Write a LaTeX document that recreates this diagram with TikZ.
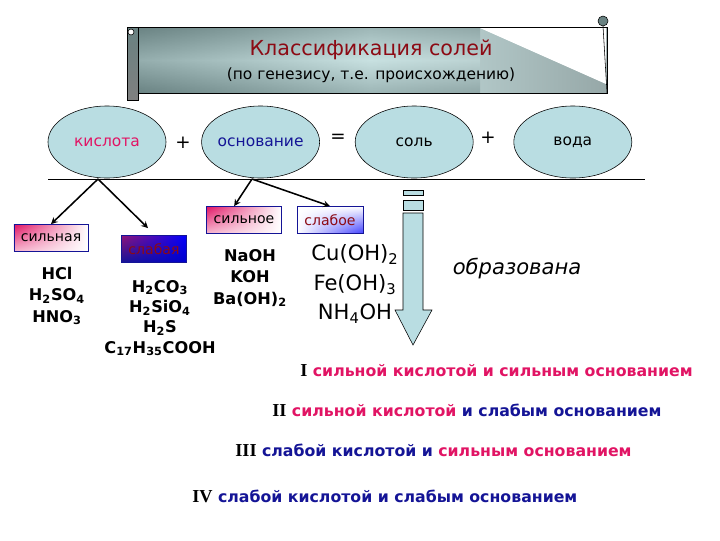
\documentclass[tikz,border=0pt]{standalone}
\usepackage{fontspec}
\setmainfont{DejaVu Sans}
\newfontfamily\romfont{Liberation Serif}
\usepackage{tikz}
\usetikzlibrary{shapes.geometric, arrows, shadings}
\usetikzlibrary{positioning}
\definecolor{saltblue}{RGB}{185,221,226}
\definecolor{acidred}{RGB}{225,20,100}
\definecolor{basenavy}{RGB}{20,20,150}
\definecolor{titlered}{RGB}{140,10,20}
\definecolor{bannergray}{RGB}{105,130,130}
\definecolor{bannerlight}{RGB}{200,225,225}
\tikzstyle{reagent} = [ellipse, minimum width=2.95cm, minimum height=1.8cm, inner xsep=-2pt, text centered, draw=black, fill=saltblue, font=\fontsize{11}{13}\selectfont]
\tikzstyle{kind} = [rectangle, minimum height=0.68cm, text centered, draw=basenavy, font=\fontsize{10}{12}\selectfont]
\tikzstyle{formula} = [align=center, font=\bfseries\fontsize{11.5}{15.3}\selectfont]
\tikzstyle{sign} = [font=\fontsize{13}{15}\selectfont]
\tikzstyle{verdict} = [anchor=west, inner xsep=0pt, font=\bfseries\fontsize{11.2}{13}\selectfont]
\tikzstyle{arrow} = [line width=1.1pt,->,>=stealth]

\begin{document}
\begin{tikzpicture}[x=0.025cm, y=-0.025cm]
\useasboundingbox (0,0) rectangle (720,540);

% banner
\shade[left color=bannergray, right color=bannergray!70, middle color=bannerlight] (133,27) rectangle (607,93);
\shade[top color=bannergray, bottom color=bannergray, middle color=bannerlight, opacity=0.45] (133,27) rectangle (480,93);
\fill[white] (480,28) -- (606,28) -- (606,84) -- cycle;
\draw (133,27) rectangle (607,93);
\shade[top color=bannergray, bottom color=gray] (127,27) rectangle (138,100);
\draw (127,27) rectangle (138,100);
\filldraw[fill=white] (131,32) circle (3);
\filldraw[fill=bannergray] (603,21) circle (5);
\draw (603,26) -- (607,93);
\node (title) [text=titlered, font=\fontsize{14.7}{17}\selectfont] at (371,50) {Классификация солей};
\node (genesis) [font=\fontsize{11}{13}\selectfont] at (371,75) {(по генезису, т.е. происхождению)};

% reaction
\node (kislota) [reagent, text=acidred] at (107,142) {кислота};
\node (osnovanie) [reagent, text=basenavy, right=0.875cm of kislota] {основание};
\node (sol) [reagent, text=black, right=0.875cm of osnovanie] {соль};
\node (voda) [reagent, text=black, right=1.0cm of sol] {вода};
\node (plus1) [sign] at (183,143) {+};
\node (eq) [sign] at (338,138) {=};
\node (plus2) [sign] at (488,138) {+};
\draw (48,179) -- (645,179);

% kinds
\node (silnaya) [kind, minimum width=1.85cm, upper left=acidred, upper right=white, lower left=acidred!30, lower right=white] at (51,238) {сильная};
\node (slabaya) [kind, minimum width=1.63cm, text=titlered, upper left=acidred!60!basenavy, upper right=blue, lower left=basenavy, lower right=blue!80!black] at (154,249) {слабая};
\node (silnoe) [kind, minimum width=1.88cm, upper left=acidred, upper right=white, lower left=acidred!30, lower right=white] at (244,220) {сильное};
\node (slaboe) [kind, minimum width=1.65cm, text=titlered, upper left=white, upper right=white, lower left=white, lower right=blue!75] at (330,220) {слабое};

\coordinate (acidfork) at (98,179);
\coordinate (basefork) at (252,179);
\draw [arrow] (acidfork) -- (silnaya.north);
\draw [arrow] (acidfork) -- ([shift={(-6,-7)}]slabaya.north);
\draw [arrow] (basefork) -- ([xshift=-7]silnoe.north);
\draw [arrow] (basefork) -- (slaboe.north);

% examples
\node (strongacids) [formula] at (57,296) {HCl\\H\textsubscript{2}SO\textsubscript{4}\\HNO\textsubscript{3}};
\node (weakacids) [formula, font=\bfseries\fontsize{11.5}{14.4}\selectfont] at (160,318) {H\textsubscript{2}CO\textsubscript{3}\\H\textsubscript{2}SiO\textsubscript{4}\\H\textsubscript{2}S\\C\textsubscript{17}H\textsubscript{35}COOH};
\node (strongbases) [formula] at (250,278) {NaOH\\KOH\\Ba(OH)\textsubscript{2}};
\node (weakbases) [align=center, font=\fontsize{15}{21}\selectfont] at (355,284) {Cu(OH)\textsubscript{2}\\Fe(OH)\textsubscript{3}\\NH\textsubscript{4}OH};

% block arrow
\filldraw[fill=saltblue] (403,190) rectangle (423,195);
\filldraw[fill=saltblue] (403,200) rectangle (423,210);
\filldraw[fill=saltblue] (403,213) -- (423,213) -- (423,310) -- (432,310) -- (413,345) -- (395,310) -- (403,310) -- cycle;
\node (obrazovana) [font=\itshape\fontsize{15}{17}\selectfont] at (517,268) {образована};

% types
\node (typeI) [verdict] at (300,371) {{\romfont\fontsize{13}{13}\selectfont I} \textcolor{acidred}{сильной кислотой и сильным основанием}};
\node (typeII) [verdict] at (272,410) {{\romfont\fontsize{13}{13}\selectfont II} \textcolor{acidred}{сильной кислотой} \textcolor{basenavy}{и слабым основанием}};
\node (typeIII) [verdict] at (235,450) {{\romfont\fontsize{13}{13}\selectfont III} \textcolor{basenavy}{слабой кислотой и} \textcolor{acidred}{сильным основанием}};
\node (typeIV) [verdict] at (192,496) {{\romfont\fontsize{13}{13}\selectfont IV} \textcolor{basenavy}{слабой кислотой и слабым основанием}};
\end{tikzpicture}
\end{document}
